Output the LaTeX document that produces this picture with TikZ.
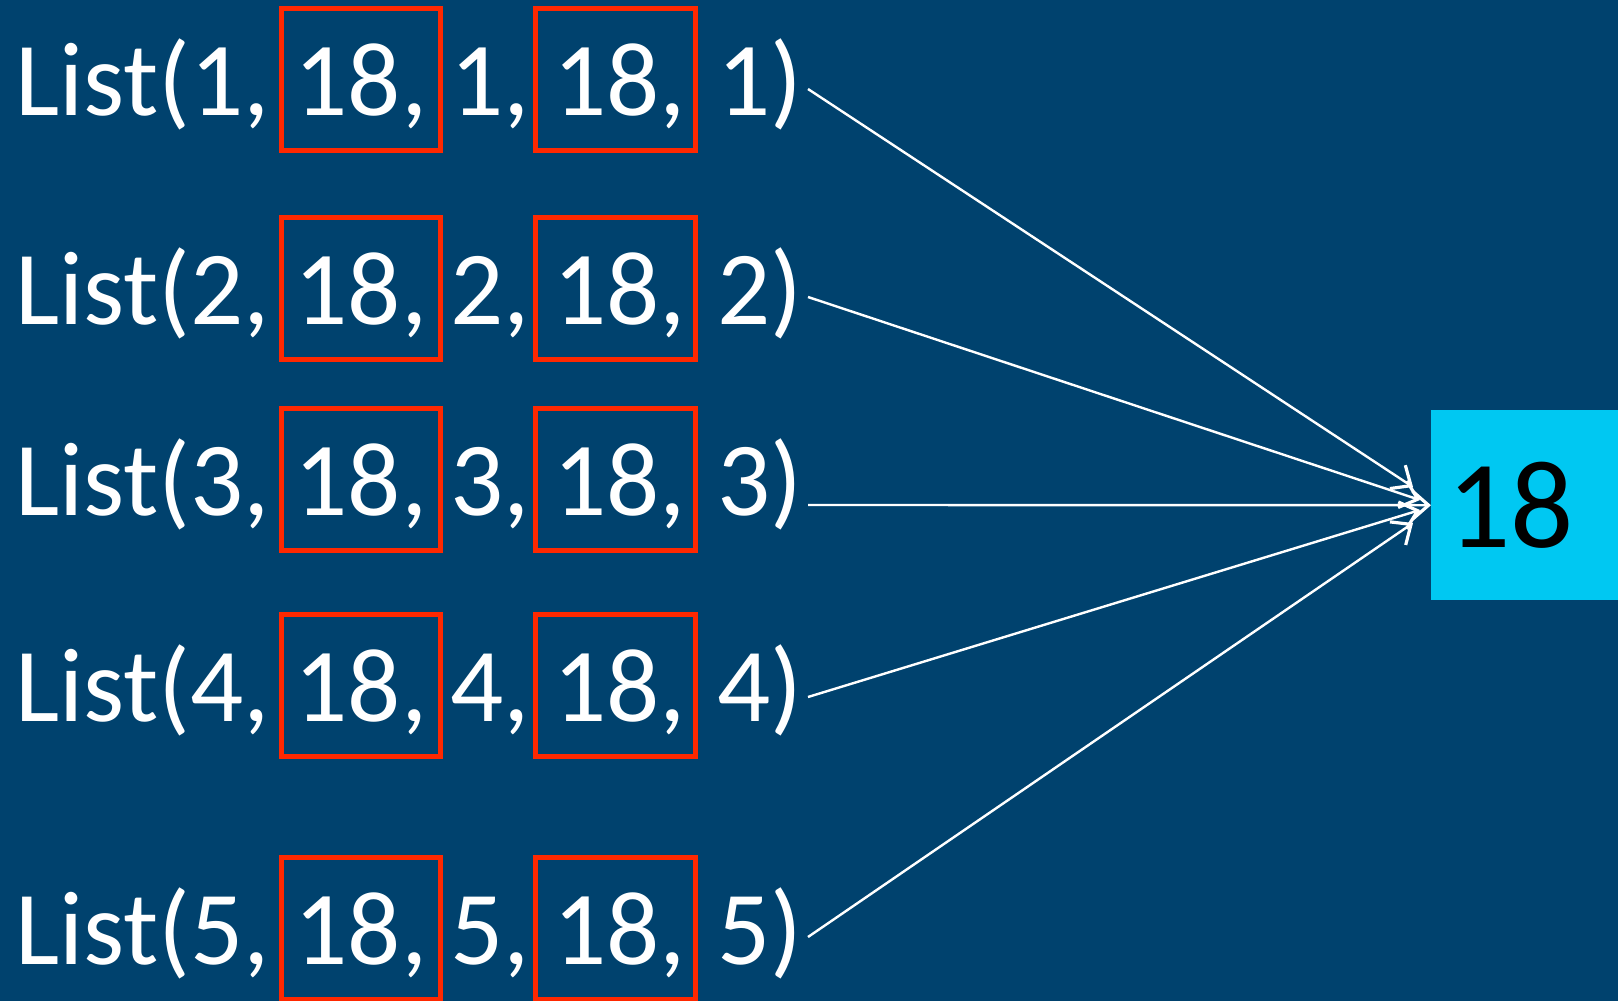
\documentclass[tikz,border=0pt]{standalone}
\usepackage{fontspec}
\setmainfont{Carlito}
\usetikzlibrary{arrows.meta}
\definecolor{bgblue}{RGB}{0,66,110}
\definecolor{boxred}{RGB}{255,40,0}
\definecolor{hicyan}{RGB}{0,200,242}

% one line "List(n, 18, n, 18, n)" with the two 18s framed
\newcommand\listrow[2]{%
  \node[txt] (r#1a) at (15,#2) {List(#1,};
  \node[redbox] (r#1b) at ([xshift=9.3pt]r#1a.base east) {18,};
  \node[txt] (r#1c) at ([xshift=7.3pt]r#1b.base east) {#1,};
  \node[redbox, inner xsep=9.5pt] (r#1d) at ([xshift=3.3pt]r#1c.base east) {\hspace*{8pt}18,};
  \node[txt] (r#1e) at ([xshift=19pt]r#1d.base east) {#1)};
}

\begin{document}
\begin{tikzpicture}[x=1pt,y=-1pt,
  txt/.style={text=white, font=\fontsize{105}{120}\selectfont, inner sep=0pt, anchor=base west},
  redbox/.style={txt, draw=boxred, line width=5pt, inner xsep=13pt, inner ysep=0pt,
                 text height=107pt, text depth=35pt},
  link/.style={white, line width=2.4pt,
               -{Straight Barb[length=16pt,width=28pt,line width=3.2pt]}}
]
\fill[bgblue] (0,0) rectangle (1618,1001);
\useasboundingbox (0,0) rectangle (1618,1001);

\listrow{1}{115}
\listrow{2}{324}
\listrow{3}{515}
\listrow{4}{721}
\listrow{5}{964}

% result box
\node[fill=hicyan, anchor=north west, inner xsep=16pt, inner ysep=0pt,
      minimum height=190pt, text width=155pt, align=left,
      font=\fontsize{125}{130}\selectfont, text=black] (res) at (1431,410) {18};

% connector end points
\coordinate (from1) at (808,89);
\coordinate (from2) at (808,297);
\coordinate (from3) at (808,505);
\coordinate (from4) at (808,697);
\coordinate (from5) at (808,937);
\coordinate (to1) at (1413,487);
\coordinate (to2) at (1420,500);
\coordinate (to4) at (1420,510);
\coordinate (to5) at (1413,523);

\draw[link] (from1) -- (to1);
\draw[link] (from2) -- (to2);
\draw[link] (from3) -- (res.west);
\draw[link] (from4) -- (to4);
\draw[link] (from5) -- (to5);
\end{tikzpicture}
\end{document}
